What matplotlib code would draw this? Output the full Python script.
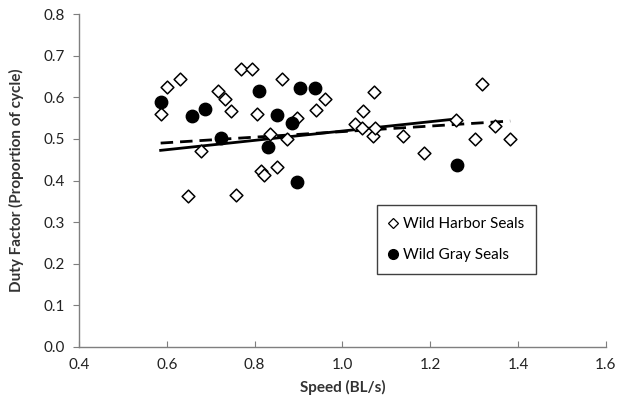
import matplotlib
matplotlib.use("Agg")
import matplotlib.pyplot as plt
import numpy as np
from matplotlib.lines import Line2D

harbor_speed = [0.586, 0.601, 0.629, 0.648, 0.679, 0.717, 0.733, 0.747, 0.757, 0.770,
                0.793, 0.806, 0.834, 0.814, 0.822, 0.852, 0.863, 0.874, 0.896, 0.940,
                0.961, 1.029, 1.047, 1.044, 1.071, 1.069, 1.075, 1.137, 1.186, 1.259,
                1.302, 1.317, 1.348, 1.382]
harbor_df = [0.559, 0.625, 0.644, 0.363, 0.472, 0.616, 0.595, 0.567, 0.366, 0.669,
             0.669, 0.559, 0.513, 0.424, 0.414, 0.433, 0.644, 0.501, 0.550, 0.570,
             0.597, 0.535, 0.566, 0.527, 0.612, 0.506, 0.527, 0.506, 0.466, 0.546,
             0.500, 0.633, 0.532, 0.500]

gray_speed = [0.586, 0.658, 0.688, 0.724, 0.810, 0.831, 0.850, 0.886, 0.896, 0.904, 0.938, 1.260]
gray_df = [0.588, 0.556, 0.571, 0.502, 0.615, 0.480, 0.558, 0.538, 0.396, 0.623, 0.623, 0.438]

# fitted trend lines (slope, intercept)
harbor_fit = (0.0666, 0.451)
gray_fit = (0.1122, 0.4068)

x_ticks = [0.4, 0.6, 0.8, 1.0, 1.2, 1.4, 1.6]
y_ticks = [0.0, 0.1, 0.2, 0.3, 0.4, 0.5, 0.6, 0.7, 0.8]

plt.rcParams['font.family'] = ['Lato', 'DejaVu Sans']

fig = plt.figure(figsize=(6.17, 4.03), dpi=100)
ax = fig.add_axes([0.128, 0.139, 0.854, 0.826])

ax.scatter(harbor_speed, harbor_df, marker='D', s=42, facecolor='white',
           edgecolor='black', linewidth=1.1, zorder=3)
ax.scatter(gray_speed, gray_df, marker='o', s=80, facecolor='black',
           edgecolor='black', zorder=4)

hx = np.array([min(harbor_speed), max(harbor_speed)])
ax.plot(hx, harbor_fit[0] * hx + harbor_fit[1], color='black', lw=2.0,
        linestyle=(0, (4.5, 2.5)), zorder=2)
gx = np.array([min(gray_speed), max(gray_speed)])
ax.plot(gx, gray_fit[0] * gx + gray_fit[1], color='black', lw=2.0, zorder=2)

ax.set_xlim(0.4, 1.6)
ax.set_ylim(0.0, 0.8)
ax.set_xticks(x_ticks)
ax.set_yticks(y_ticks)
ax.set_xticklabels([f"{v:.1f}" for v in x_ticks])
ax.set_yticklabels([f"{v:.1f}" for v in y_ticks])

for s in ['top', 'right']:
    ax.spines[s].set_visible(False)
for s in ['left', 'bottom']:
    ax.spines[s].set_color('#7f7f7f')
    ax.spines[s].set_linewidth(1.0)
ax.tick_params(axis='x', direction='in', length=4, color='#7f7f7f',
               labelsize=11, pad=8, labelcolor='#222222')
ax.tick_params(axis='y', direction='out', length=4, color='#7f7f7f',
               labelsize=11, pad=6, labelcolor='#222222')

ax.set_xlabel('Speed (BL/s)', fontsize=11, fontweight='bold', color='#333333', labelpad=6)
ax.set_ylabel('Duty Factor (Proportion of cycle)', fontsize=11, fontweight='bold',
              color='#333333', labelpad=14)

handles = [
    Line2D([], [], marker='D', linestyle='none', markersize=5, markerfacecolor='white',
           markeredgecolor='black', markeredgewidth=0.9),
    Line2D([], [], marker='o', linestyle='none', markersize=7, markerfacecolor='black',
           markeredgecolor='black'),
]
leg = ax.legend(handles, ['Wild Harbor Seals', 'Wild Gray Seals'],
                loc='upper left', bbox_to_anchor=(0.565, 0.426), fontsize=11,
                frameon=True, fancybox=False, framealpha=1.0, handlelength=0.6,
                handletextpad=0.3, labelspacing=1.1, borderpad=0.8, borderaxespad=0)
leg.get_frame().set_edgecolor('#404040')
leg.get_frame().set_linewidth(1.0)
leg.set_zorder(10)

fig.savefig('out.png', dpi=100)
